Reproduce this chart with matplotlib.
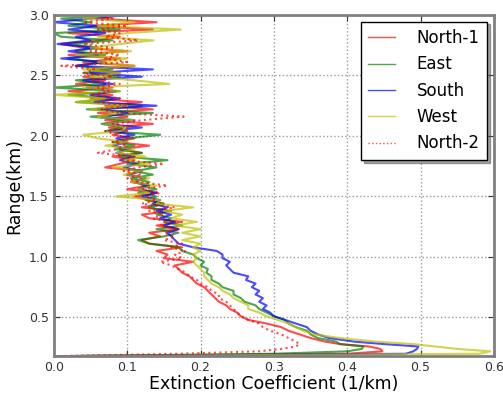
import matplotlib
matplotlib.use("Agg")
import matplotlib.pyplot as plt
import numpy as np

# range grid (km): fine near the ground, then every 30 m
range_near = [0.18, 0.20, 0.22, 0.24, 0.26, 0.28]
range_far = list(np.round(np.arange(0.30, 3.001, 0.03), 3))
range_km = np.array(range_near + range_far)

north1 = [0.0, 0.40, 0.448, 0.445, 0.43, 0.39,
          0.37, 0.35, 0.335, 0.32, 0.31, 0.29, 0.265, 0.255, 0.25, 0.24,
          0.235, 0.225, 0.22, 0.215, 0.21, 0.205, 0.195, 0.19, 0.185, 0.175,
          0.17, 0.165, 0.19, 0.15, 0.155, 0.14, 0.175, 0.13, 0.12, 0.145,
          0.13, 0.17, 0.14, 0.175, 0.13, 0.12, 0.16, 0.12, 0.15, 0.13,
          0.11, 0.14, 0.10, 0.13, 0.105, 0.125, 0.10, 0.12, 0.07, 0.09,
          0.11, 0.08, 0.12, 0.09, 0.13, 0.085, 0.11, 0.08, 0.10, 0.075,
          0.135, 0.07, 0.10, 0.06, 0.135, 0.07, 0.12, 0.05, 0.08, 0.02,
          0.08, 0.03, 0.07, 0.04, 0.09, 0.05, 0.11, 0.04, 0.09, 0.02,
          0.10, 0.04, 0.01, 0.06, 0.09, 0.02, 0.135, 0.05, 0.14, 0.06,
          0.09]

east = [0.0, 0.30, 0.40, 0.42, 0.422, 0.39,
        0.385, 0.36, 0.35, 0.345, 0.33, 0.32, 0.315, 0.30, 0.29, 0.28,
        0.275, 0.26, 0.255, 0.245, 0.245, 0.23, 0.225, 0.215, 0.215, 0.208,
        0.21, 0.20, 0.205, 0.195, 0.19, 0.175, 0.17, 0.13, 0.115, 0.15,
        0.17, 0.14, 0.175, 0.15, 0.16, 0.14, 0.155, 0.13, 0.15, 0.125,
        0.14, 0.115, 0.14, 0.12, 0.13, 0.105, 0.135, 0.11, 0.14, 0.10,
        0.155, 0.09, 0.12, 0.085, 0.11, 0.08, 0.10, 0.145, 0.07, 0.095,
        0.065, 0.10, 0.05, 0.135, 0.045, 0.12, 0.03, 0.08, 0.02, 0.09,
        0.0, 0.07, 0.03, 0.09, 0.04, 0.08, 0.03, 0.065, 0.02, 0.07,
        0.03, 0.06, 0.02, 0.08, 0.01, 0.0, 0.09, 0.02, 0.05, 0.01,
        0.10]

south = [0.0, 0.48, 0.49, 0.495, 0.497, 0.45,
         0.41, 0.375, 0.36, 0.35, 0.345, 0.33, 0.315, 0.30, 0.295, 0.285,
         0.29, 0.28, 0.285, 0.275, 0.28, 0.27, 0.275, 0.262, 0.265, 0.245,
         0.24, 0.235, 0.24, 0.23, 0.23, 0.222, 0.19, 0.17, 0.165, 0.16,
         0.155, 0.17, 0.15, 0.165, 0.145, 0.16, 0.14, 0.155, 0.135, 0.145,
         0.12, 0.14, 0.115, 0.13, 0.11, 0.125, 0.10, 0.12, 0.095, 0.115,
         0.09, 0.11, 0.085, 0.105, 0.08, 0.10, 0.085, 0.11, 0.075, 0.12,
         0.07, 0.11, 0.065, 0.10, 0.06, 0.14, 0.055, 0.09, 0.05, 0.085,
         0.045, 0.08, 0.04, 0.12, 0.05, 0.135, 0.03, 0.07, 0.01, 0.06,
         0.02, 0.055, 0.005, 0.05, 0.03, 0.07, 0.02, 0.06, 0.0, 0.05,
         0.10]

west = [0.0, 0.58, 0.595, 0.55, 0.52, 0.49,
        0.44, 0.39, 0.355, 0.34, 0.33, 0.32, 0.305, 0.29, 0.28, 0.265,
        0.265, 0.255, 0.245, 0.24, 0.23, 0.225, 0.215, 0.21, 0.205, 0.205,
        0.20, 0.195, 0.19, 0.195, 0.19, 0.20, 0.19, 0.20, 0.175, 0.20,
        0.175, 0.20, 0.165, 0.195, 0.16, 0.175, 0.15, 0.19, 0.14, 0.145,
        0.085, 0.13, 0.115, 0.14, 0.105, 0.13, 0.095, 0.12, 0.08, 0.13,
        0.095, 0.125, 0.085, 0.11, 0.07, 0.10, 0.06, 0.04, 0.09, 0.10,
        0.07, 0.11, 0.06, 0.09, 0.05, 0.10, 0.03, 0.07, 0.0, 0.09,
        0.04, 0.157, 0.11, 0.05, 0.09, 0.04, 0.11, 0.06, 0.10, 0.03,
        0.105, 0.05, 0.09, 0.136, 0.06, 0.10, 0.173, 0.06, 0.11, 0.04,
        0.08]

north2 = [0.0, 0.17, 0.28, 0.31, 0.33, 0.335,
          0.33, 0.32, 0.31, 0.295, 0.285, 0.28, 0.265, 0.255, 0.25, 0.245,
          0.24, 0.235, 0.225, 0.225, 0.215, 0.21, 0.20, 0.195, 0.185, 0.18,
          0.17, 0.16, 0.145, 0.175, 0.165, 0.18, 0.16, 0.175, 0.15, 0.165,
          0.15, 0.17, 0.145, 0.16, 0.135, 0.15, 0.13, 0.165, 0.12, 0.14,
          0.125, 0.145, 0.12, 0.155, 0.115, 0.10, 0.12, 0.095, 0.115, 0.15,
          0.09, 0.11, 0.06, 0.085, 0.10, 0.08, 0.10, 0.085, 0.07, 0.105,
          0.08, 0.12, 0.177, 0.09, 0.065, 0.10, 0.06, 0.09, 0.05, 0.075,
          0.06, 0.09, 0.05, 0.08, 0.04, 0.055, 0.01, 0.10, 0.07, 0.09,
          0.05, 0.08, 0.04, 0.115, 0.07, 0.09, 0.06, 0.10, 0.04, 0.08,
          0.06]

series = [
    ("North-1", north1, "r", "-"),
    ("East", east, "g", "-"),
    ("South", south, "b", "-"),
    ("West", west, "y", "-"),
    ("North-2", north2, "r", ":"),
]

fig = plt.figure(figsize=(5.03, 3.94), dpi=100)
ax = fig.add_axes([0.107, 0.096, 0.875, 0.866])

for name, values, color, style in series:
    ax.plot(values, range_km, color=color, linestyle=style, linewidth=1.5,
            alpha=0.7, label=name)

ax.set_xlim(0, 0.6)
ax.set_ylim(0.18, 3.0)
ax.set_xticks(np.arange(0, 0.61, 0.1))
ax.set_yticks([0.5, 1.0, 1.5, 2.0, 2.5, 3.0])
ax.xaxis.set_major_formatter(matplotlib.ticker.FormatStrFormatter("%.1f"))
ax.yaxis.set_major_formatter(matplotlib.ticker.FormatStrFormatter("%.1f"))
ax.tick_params(direction="in", labelsize=9, colors="#333333", length=4,
               top=True, right=True)
ax.grid(True, linestyle=":", color="#999999", linewidth=1)
for sp in ax.spines.values():
    sp.set_color("#808080")
    sp.set_linewidth(2)

ax.set_xlabel("Extinction Coefficient (1/km)", fontsize=12.5, labelpad=1)
ax.set_ylabel("Range(km)", fontsize=12.5, labelpad=4)

leg = ax.legend(loc="upper right", fontsize=12, fancybox=False, shadow=True,
                handlelength=1.6, handletextpad=1.3, borderpad=0.45,
                labelspacing=0.5, borderaxespad=0.4)
leg.get_frame().set_edgecolor("black")
for line in leg.get_lines():
    line.set_linewidth(1)

fig.savefig("out.png", dpi=100)
